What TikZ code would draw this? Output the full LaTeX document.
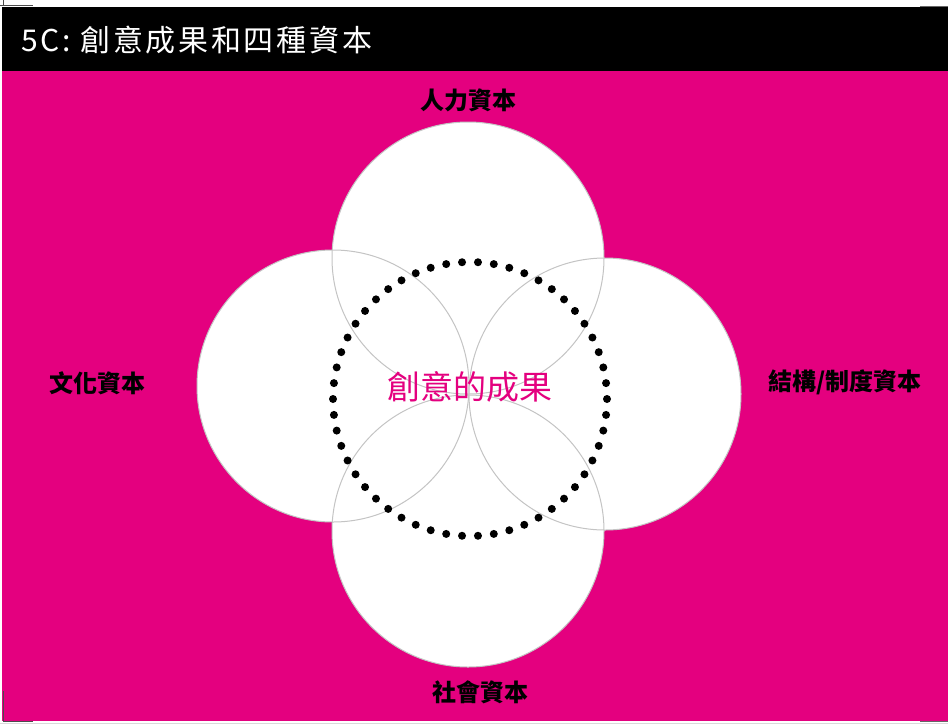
\documentclass[tikz,border=0pt]{standalone}
\usepackage{fontspec}
\setmainfont{Noto Sans CJK TC}
\definecolor{rose}{HTML}{E4007F}
\definecolor{rim}{HTML}{C4C4C4}
\begin{document}
\begin{tikzpicture}[x=1pt,y=-1pt]
    \useasboundingbox (0,0) rectangle (948,724);
    \fill[rose]  (2,71) rectangle (948,721);
    \fill[black] (2,7)  rectangle (948,71);
    \draw[black!70,line width=.8] (0,5) -- (33,5) (3,0) -- (3,5);
    \draw[black!70,line width=.8] (3,691) -- (3,721) -- (33,721);
    \draw[black!60,line width=.8] (920,721) -- (948,721) (920,6) -- (948,6);
    \draw[black!15,line width=1] (0,723) -- (948,723);
    \node[white,anchor=west,font=\fontsize{30}{32}\selectfont\addfontfeatures{LetterSpace=9}] (title) at (18,40) {5C: 創意成果和四種資本};
    \coordinate (human)  at (468,258);
    \coordinate (cult)   at (333,386);
    \coordinate (struct) at (605,394);
    \coordinate (social) at (468,531);
    \foreach \c in {human,cult,struct,social} \fill[white] (\c) circle[radius=136];
    \foreach \c in {human,cult,struct,social} \draw[rim,line width=1] (\c) circle[radius=136];
    \coordinate (core) at (470,399);
    \foreach \a in {0,...,53} \fill (core) ++(\a*20/3:137) circle[radius=4];
    \node[rose,font=\fontsize{33}{35}\selectfont] (outcome) at (470,387) {創意的成果};
    \node[font=\bfseries\fontsize{24}{26}\selectfont] (humlbl) at (468,100) {人力資本};
    \node[font=\bfseries\fontsize{24}{26}\selectfont] (cullbl) at (97,383)  {文化資本};
    \node[font=\bfseries\fontsize{24}{26}\selectfont] (strlbl) at (845,382) {結構/制度資本};
    \node[font=\bfseries\fontsize{24}{26}\selectfont] (soclbl) at (480,692) {社會資本};
\end{tikzpicture}
\end{document}
